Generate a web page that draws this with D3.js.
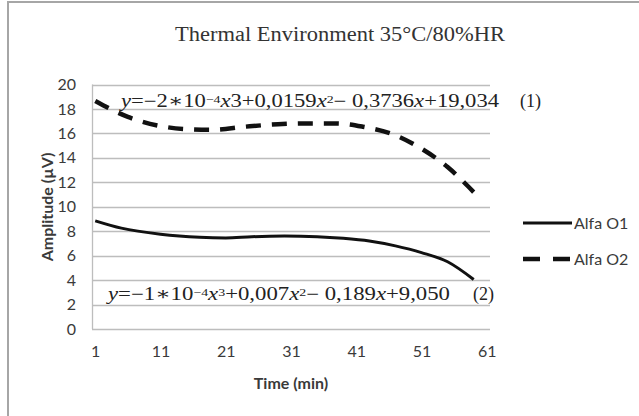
<!DOCTYPE html>
<html>
<head>
<meta charset="utf-8">
<style>
  body { margin: 0; background: #fff; }
  svg { display: block; }
  .tick text { font-family: Lato, "Open Sans", sans-serif; font-size: 16px; fill: #3a3a3a; }
  .eq { font-family: "Liberation Serif", "DejaVu Serif", serif; font-size: 18px; fill: #222; }
</style>
</head>
<body>
<svg width="639" height="416"></svg>
<script src="https://d3js.org/d3.v7.min.js"></script>
<script>
// values (minute, amplitude in µV)
var minutesO1 = [1, 5, 11, 17, 21, 25, 30, 35, 39, 43, 47, 51, 55, 59];
var alfaO1    = [8.85, 8.25, 7.75, 7.5, 7.45, 7.55, 7.6, 7.55, 7.42, 7.2, 6.8, 6.25, 5.5, 4.05];
var minutesO2 = [1, 6, 11, 15, 19, 24, 29, 33, 38, 42, 47, 51, 55, 59];
var alfaO2    = [18.65, 17.35, 16.6, 16.35, 16.3, 16.55, 16.75, 16.82, 16.82, 16.55, 15.85, 14.75, 13.25, 11.2];
var xTicks = [1, 11, 21, 31, 41, 51, 61];
var yTicks = [0, 2, 4, 6, 8, 10, 12, 14, 16, 18, 20];
var seriesNames = ["Alfa O1", "Alfa O2"];

var svg = d3.select("svg");

// outer frame (only top and left edges fall inside the picture)
svg.append("path")
  .attr("d", "M8,416V2H639")
  .attr("fill", "none")
  .attr("stroke", "#a6a6a6")
  .attr("stroke-width", 2);

var x = d3.scaleLinear().domain([0.5, 61.5]).range([92, 490]);
var y = d3.scaleLinear().domain([0, 20]).range([329, 84.5]);

// gridlines
svg.append("g")
  .selectAll("line")
  .data(yTicks)
  .enter().append("line")
    .attr("x1", x.range()[0])
    .attr("x2", x.range()[1])
    .attr("y1", function(d) { return Math.round(y(d)) + 0.5; })
    .attr("y2", function(d) { return Math.round(y(d)) + 0.5; })
    .attr("stroke", "#bdbdbd")
    .attr("stroke-width", 1.3);

svg.append("line")
  .attr("x1", 92.5).attr("x2", 92.5)
  .attr("y1", y(20)).attr("y2", y(0))
  .attr("stroke", "#bdbdbd")
  .attr("stroke-width", 1.3);

// axes (labels only)
var yAxis = svg.append("g")
  .attr("transform", "translate(92,0)")
  .call(d3.axisLeft(y).tickValues(yTicks).tickSize(0).tickPadding(16));
yAxis.select(".domain").remove();

var xAxis = svg.append("g")
  .attr("transform", "translate(0,329)")
  .call(d3.axisBottom(x).tickValues(xTicks).tickSize(0).tickPadding(17));
xAxis.select(".domain").remove();

svg.append("text")
  .attr("x", 291)
  .attr("y", 389)
  .attr("text-anchor", "middle")
  .attr("font-family", "Lato, sans-serif")
  .attr("font-weight", "bold")
  .attr("font-size", 16)
  .attr("fill", "#3a3a3a")
  .text("Time (min)");

svg.append("text")
  .attr("transform", "translate(53,207) rotate(-90)")
  .attr("text-anchor", "middle")
  .attr("font-family", "Lato, sans-serif")
  .attr("font-weight", "bold")
  .attr("font-size", 16)
  .attr("fill", "#3a3a3a")
  .text("Amplitude (\u00b5V)");

svg.append("text")
  .attr("x", 175)
  .attr("y", 41)
  .attr("font-family", "Liberation Serif, serif")
  .attr("font-size", 20)
  .attr("fill", "#333")
  .attr("textLength", 330)
  .attr("lengthAdjust", "spacingAndGlyphs")
  .text("Thermal Environment 35\u00b0C/80%HR");

// series lines
var line = d3.line()
  .x(function(d) { return x(d[0]); })
  .y(function(d) { return y(d[1]); })
  .curve(d3.curveMonotoneX);

svg.append("path")
  .datum(d3.zip(minutesO1, alfaO1))
  .attr("d", line)
  .attr("fill", "none")
  .attr("stroke", "#111")
  .attr("stroke-width", 3);

svg.append("path")
  .datum(d3.zip(minutesO2, alfaO2))
  .attr("d", line)
  .attr("fill", "none")
  .attr("stroke", "#111")
  .attr("stroke-width", 4.5)
  .attr("stroke-dasharray", "15,11");

// regression equations
function equation(x0, y0, width, parts) {
  var t = svg.append("text")
    .attr("class", "eq")
    .attr("x", x0)
    .attr("y", y0)
    .attr("textLength", width)
    .attr("lengthAdjust", "spacingAndGlyphs");
  parts.forEach(function(p) {
    var s = t.append("tspan").text(p[0]);
    if (p[1] == "i") s.attr("font-style", "italic");
    if (p[1] == "s") s.attr("font-size", 11).attr("baseline-shift", "35%");
  });
}

equation(121, 107, 378, [["y", "i"], ["=\u22122\u221710"], ["\u22124", "s"], ["x", "i"], ["3+0,0159"],
  ["x", "i"], ["2", "s"], ["\u2212 0,3736"], ["x", "i"], ["+19,034"]]);
equation(108, 300, 342, [["y", "i"], ["=\u22121\u221710"], ["\u22124", "s"], ["x", "i"], ["3", "s"], ["+0,007"],
  ["x", "i"], ["2", "s"], ["\u2212 0,189"], ["x", "i"], ["+9,050"]]);

svg.append("text").attr("class", "eq").attr("x", 520).attr("y", 107).text("(1)");
svg.append("text").attr("class", "eq").attr("x", 473).attr("y", 300).text("(2)");

// legend
var legend = svg.append("g")
  .selectAll("g")
  .data(seriesNames)
  .enter().append("g")
    .attr("transform", function(d, i) { return "translate(523," + (223 + i * 36) + ")"; });

legend.append("line")
  .attr("x1", 0).attr("x2", 49)
  .attr("stroke", "#111")
  .attr("stroke-width", function(d, i) { return i ? 4.5 : 3; })
  .attr("stroke-dasharray", function(d, i) { return i ? "17,13" : null; });

legend.append("text")
  .attr("x", 51)
  .attr("dy", "0.35em")
  .attr("font-family", "Lato, sans-serif")
  .attr("font-size", 16)
  .attr("fill", "#3a3a3a")
  .text(function(d) { return d; });
</script>
</body>
</html>
